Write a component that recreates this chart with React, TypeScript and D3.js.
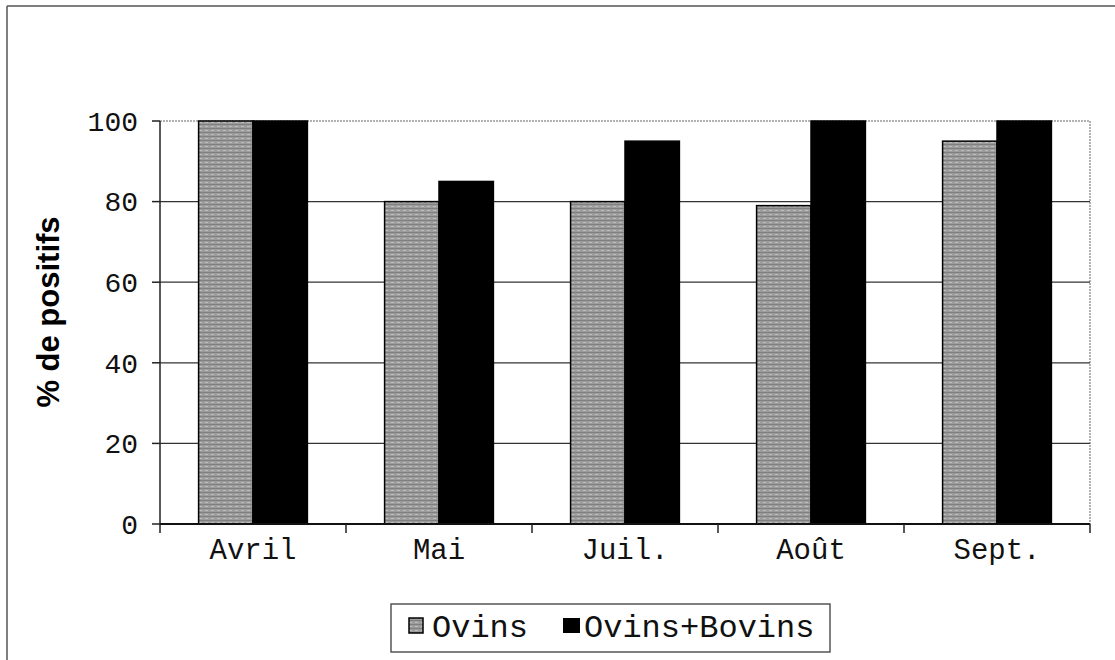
import React from 'react';
import * as d3 from 'd3';

const months = ['Avril', 'Mai', 'Juil.', 'Août', 'Sept.'];
const seriesNames = ['Ovins', 'Ovins+Bovins'];
const ovins = [100, 80, 80, 79, 95];
const ovinsBovins = [100, 85, 95, 100, 100];
const yTicks = [0, 20, 40, 60, 80, 100];

const WIDTH = 1115,
    HEIGHT = 660;

const PLOT = {
    LEFT: 160,
    RIGHT: 1090,
    TOP: 121,
    BOTTOM: 524
};

const MONO = '"Liberation Mono", "DejaVu Sans Mono", monospace';

export default function App() {
    const x = d3.scaleBand<string>().domain(months).range([PLOT.LEFT, PLOT.RIGHT]).paddingInner(0).paddingOuter(0);
    const barGroupWidth = x.bandwidth() * 0.585;
    const inner = d3.scaleBand<string>().domain(seriesNames).range([0, barGroupWidth]);
    const y = d3.scaleLinear().domain([0, 100]).range([PLOT.BOTTOM, PLOT.TOP]);

    const offset = (x.bandwidth() - barGroupWidth) / 2;
    const values = [ovins, ovinsBovins];
    const fills = ['url(#ovinsPattern)', '#000'];

    const bars = months.flatMap((m, i) => seriesNames.map((s, j) => {
        const v = values[j][i];
        const bx = (x(m) as number) + offset + (inner(s) as number);
        return <rect key={`bar-${i}-${j}`} x={bx} y={y(v)} width={inner.bandwidth()} height={y(0) - y(v)}
            fill={fills[j]} stroke='#000' strokeWidth={1.5} />;
    }));

    const boundaries = [...months.map(m => x(m) as number), PLOT.RIGHT];

    return (
        <div style={{ position: 'absolute', left: 0, top: 0 }}>
            <svg width={WIDTH} height={HEIGHT} style={{ display: 'block', background: '#fff' }}>
                <defs>
                    <pattern id='ovinsPattern' width='6' height='4' patternUnits='userSpaceOnUse'>
                        <rect width='6' height='4' fill='#9c9c9c' />
                        <rect y='0' width='6' height='1' fill='#808080' />
                        <rect x='1' y='2' width='3' height='1' fill='#bcbcbc' />
                    </pattern>
                </defs>

                {/* outer frame (left and top only visible) */}
                <line x1={7} y1={6} x2={7} y2={HEIGHT} stroke='#555' strokeWidth={1.5} />
                <line x1={7} y1={6} x2={WIDTH} y2={6} stroke='#555' strokeWidth={1.5} />

                {/* plot area border, dotted */}
                <line x1={PLOT.LEFT} y1={y(100)} x2={PLOT.RIGHT} y2={y(100)} stroke='#999' strokeWidth={1.5} strokeDasharray='2,1' />
                <line x1={PLOT.RIGHT} y1={PLOT.TOP} x2={PLOT.RIGHT} y2={PLOT.BOTTOM} stroke='#999' strokeWidth={1.5} strokeDasharray='2,1' />

                {/* gridlines */}
                {yTicks.filter(t => t > 0 && t < 100).map(t => (
                    <line key={`grid-${t}`} x1={PLOT.LEFT} x2={PLOT.RIGHT} y1={y(t)} y2={y(t)} stroke='#333' strokeWidth={1.2} />
                ))}

                <g>{bars}</g>

                {/* y axis */}
                <line x1={PLOT.LEFT} y1={PLOT.TOP} x2={PLOT.LEFT} y2={PLOT.BOTTOM} stroke='#222' strokeWidth={1.5} />
                {yTicks.map(t => (
                    <g key={`ytick-${t}`}>
                        <line x1={PLOT.LEFT - 8} x2={PLOT.LEFT} y1={y(t)} y2={y(t)} stroke='#222' strokeWidth={1.5} />
                        <text x={PLOT.LEFT - 22} y={y(t)} dy='0.35em' textAnchor='end' fontFamily={MONO} fontSize={28} fill='#111'>{t}</text>
                    </g>
                ))}

                {/* x axis */}
                <line x1={PLOT.LEFT} y1={PLOT.BOTTOM} x2={PLOT.RIGHT} y2={PLOT.BOTTOM} stroke='#111' strokeWidth={2} />
                {boundaries.map((b, i) => (
                    <line key={`xtick-${i}`} x1={b} x2={b} y1={PLOT.BOTTOM} y2={PLOT.BOTTOM + 9} stroke='#222' strokeWidth={1.5} />
                ))}
                {months.map(m => (
                    <text key={`xlabel-${m}`} x={(x(m) as number) + x.bandwidth() / 2} y={PLOT.BOTTOM + 35} textAnchor='middle'
                        fontFamily={MONO} fontSize={29} fill='#111'>{m}</text>
                ))}

                {/* y title */}
                <text transform={`translate(59, 312) rotate(-90)`} textAnchor='middle'
                    fontFamily='"Liberation Sans", Arial, sans-serif' fontWeight='bold' fontSize={31} fill='#000'>% de positifs</text>

                {/* legend */}
                <rect x={391} y={604} width={439} height={48} fill='#fff' stroke='#555' strokeWidth={1.5} />
                <rect x={409} y={618} width={14} height={15} fill='url(#ovinsPattern)' stroke='#000' strokeWidth={1.5} />
                <text x={432} y={637} fontFamily={MONO} fontSize={32} fill='#111'>{seriesNames[0]}</text>
                <rect x={563} y={618} width={17} height={15} fill='#000' />
                <text x={584} y={637} fontFamily={MONO} fontSize={32} fill='#111'>{seriesNames[1]}</text>
            </svg>
        </div>
    );
}
